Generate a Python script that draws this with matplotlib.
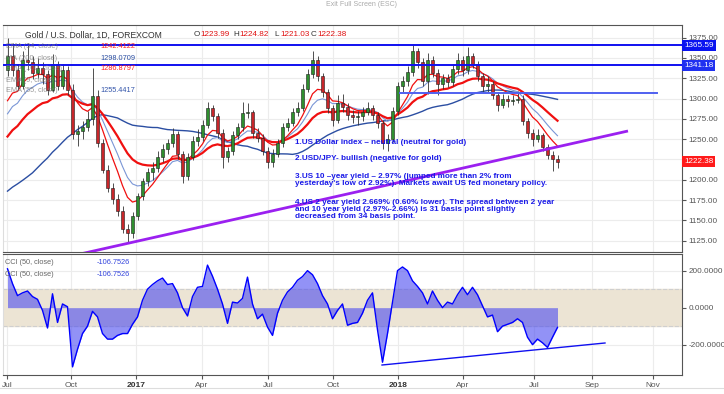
import numpy as np
import pandas as pd
import matplotlib
matplotlib.use("Agg")
import matplotlib.pyplot as plt

plt.rcParams['font.family'] = ['Liberation Sans', 'DejaVu Sans']

# ---------------- data (weekly candles) ----------------
closes = [1352,1335,1315,1348,1345,1332,1338,1330,1310,1342,
          1315,1335,1310,1256,1260,1265,1275,1303,1245,1212,
          1190,1176,1162,1140,1135,1155,1180,1198,1209,1215,
          1228,1238,1245,1256,1232,1205,1228,1248,1253,1268,
          1288,1278,1258,1228,1235,1255,1265,1282,1283,1258,
          1252,1235,1222,1232,1245,1265,1270,1283,1288,1312,
          1330,1348,1328,1308,1288,1274,1295,1290,1280,1277,
          1278,1284,1288,1280,1270,1245,1250,1285,1316,1322,
          1333,1358,1345,1322,1348,1332,1318,1325,1320,1336,
          1348,1335,1352,1343,1328,1315,1318,1305,1292,1300,
          1297,1298,1300,1272,1258,1250,1255,1240,1230,1226,
          1222.38]
opens = [1335] + closes[:-1]
highs = [1374,1368,1342,1358,1368,1352,1350,1345,1335,1355,
         1346,1343,1340,1318,1268,1272,1285,1338,1310,1250,
         1218,1196,1182,1168,1146,1160,1184,1202,1214,1222,
         1236,1244,1250,1264,1260,1236,1233,1254,1262,1274,
         1296,1292,1282,1262,1240,1260,1270,1296,1294,1286,
         1264,1256,1240,1238,1250,1270,1276,1288,1296,1318,
         1336,1358,1352,1332,1312,1292,1304,1306,1294,1286,
         1285,1290,1296,1292,1284,1274,1256,1290,1320,1328,
         1340,1366,1362,1350,1356,1352,1336,1330,1330,1342,
         1356,1352,1364,1356,1346,1332,1328,1322,1308,1306,
         1305,1304,1309,1304,1276,1262,1262,1258,1244,1235,
         1230]
lows = [1328,1328,1310,1312,1335,1324,1325,1318,1305,1308,
        1310,1312,1305,1250,1242,1250,1260,1268,1240,1208,
        1185,1170,1156,1135,1124,1128,1150,1175,1192,1200,
        1210,1222,1232,1240,1226,1196,1200,1224,1242,1248,
        1264,1272,1252,1214,1222,1230,1250,1260,1276,1252,
        1246,1230,1215,1216,1228,1240,1260,1266,1278,1285,
        1308,1325,1322,1302,1282,1266,1270,1284,1274,1270,
        1268,1272,1280,1274,1264,1238,1236,1246,1280,1308,
        1316,1328,1338,1316,1306,1326,1305,1312,1314,1316,
        1330,1328,1330,1338,1322,1308,1308,1300,1285,1288,
        1290,1292,1294,1268,1252,1242,1246,1236,1225,1211,
        1214]
# weekly closes before the visible range (feed the moving averages)
history_closes = [1160,1134,1121,1108,1137,1145,1137,1156,1176,1162,
                  1142,1088,1081,1076,1057,1085,1075,1066,1076,1061,
                  1104,1089,1097,1117,1158,1239,1230,1222,1271,1259,
                  1255,1217,1222,1243,1234,1232,1293,1290,1273,1252,
                  1216,1243,1275,1298,1322]
cci = [210,130,65,80,90,60,45,-15,-110,75,
       -80,20,5,-320,-225,-140,-100,-20,-50,-140,
       -170,-170,-150,-140,-140,-90,-50,40,100,125,
       145,160,125,130,80,0,-45,60,110,115,
       230,170,100,20,-85,30,25,50,165,20,
       -60,-35,-105,-150,-30,40,85,110,148,168,
       200,178,130,65,20,-60,-15,20,-95,-85,
       -80,-30,40,80,-120,-295,-140,30,200,220,
       200,145,115,80,20,90,40,0,30,20,
       70,110,70,110,70,10,-50,-40,-130,-100,
       -90,-80,-60,-80,-160,-200,-170,-190,-215,-160,
       -106.75]

tick_labels = ['Jul', 'Oct', '2017', 'Apr', 'Jul', 'Oct', '2018', 'Apr', 'Jul', 'Sep', 'Nov']
tick_days = [2, 66, 131, 197, 263, 328, 393, 458, 529, 587, 648]

levels = [1365.59, 1341.18]
level_mid = 1306.5
level_mid_days = [395, 652]
trend_days = [78, 623]
trend_prices = [1109.4, 1260.1]
cci_trend_days = [377, 600]
cci_trend_vals = [-310, -191]

notes = ["1.US Dollar index \u2013 neutral (neutral for gold)",
         "2.USD/JPY- bullish (negative for gold)",
         "3.US 10 \u2013year yield \u2013 2.97% (jumped more than 2% from\nyesterday's low of 2.92%). Markets await US fed monetary policy.",
         "4.US 2 year yield 2.669% (0.60% lower). The spread between 2 year\nand 10 year yield (2.97%-2.66%) is 31 basis point slightly\ndecreased from 34 basis point."]

# ---------------- computations ----------------
n = len(closes)
x = 5 * np.arange(n) + 2.5
allc = pd.Series(history_closes + closes)
h = len(history_closes)
ema34 = allc.ewm(span=7, adjust=False).mean().values[h:]
ema55 = allc.ewm(span=11, adjust=False).mean().values[h:]
ema100 = allc.ewm(span=20, adjust=False).mean().values[h:]
sma200 = allc.rolling(40).mean().values[h:]

o = np.array(opens); c = np.array(closes); hi = np.array(highs); lo = np.array(lows)
up = c >= o

# ---------------- figure ----------------
W, H = 724, 394
fig = plt.figure(figsize=(W / 100, H / 100), dpi=100)
fig.patch.set_facecolor('white')

ax = fig.add_axes([3 / W, 1 - 252 / H, 679 / W, 227 / H])
ax2 = fig.add_axes([3 / W, 1 - 375 / H, 679 / W, 121 / H])

grid_c = '#ececec'
for a in (ax, ax2):
    a.set_xlim(-2, 677)
    a.set_xticks(tick_days)
    a.grid(True, color=grid_c, lw=0.8)
    a.set_axisbelow(True)
    a.yaxis.tick_right()
    a.tick_params(axis='y', which='both', length=3, color='#555', labelsize=5.9,
                  labelcolor='#555', pad=1.5)
    a.spines['left'].set_color('#dddddd')
    a.spines['right'].set_color('#555555')
    a.spines['top'].set_color('#555555')
    a.spines['bottom'].set_color('#555555')

# main panel
ax.set_ylim(1111.1, 1390.6)
yt = np.arange(1125, 1376, 25)
ax.set_yticks(yt)
# the 1225 label sits under the last-price box in the reference
ax.set_yticklabels(["" if v == 1225 else f"{v:.2f}" for v in yt])
ax.tick_params(axis='x', length=0, labelbottom=False)

ax.plot(x, sma200, color='#2b4ea2', lw=1.0, zorder=3)
ax.plot(x, ema55, color='#7a96d6', lw=0.8, zorder=3)
ax.plot(x, ema100, color='#f01010', lw=1.6, zorder=3)
ax.plot(x, ema34, color='#f01010', lw=0.9, zorder=3)

ax.vlines(x, lo, hi, color='#333333', lw=0.6, zorder=4)
ax.bar(x[up], (c - o)[up], bottom=o[up], width=3.2, color='#2f8f2f',
       edgecolor='#1d1d1d', lw=0.4, zorder=5)
ax.bar(x[~up], (c - o)[~up], bottom=o[~up], width=3.2, color='#c8262a',
       edgecolor='#1d1d1d', lw=0.4, zorder=5)

for lv in levels:
    ax.axhline(lv, color='#1010f0', lw=1.4, zorder=6)
ax.plot(level_mid_days, [level_mid, level_mid], color='#5060f0', lw=1.4, zorder=6)
ax.plot(trend_days, trend_prices, color='#9b20f0', lw=2.0, zorder=6, solid_capstyle='butt')

# right price labels
for lv, col in [(1365.59, '#0a14f0'), (1341.18, '#2030f0'), (1222.38, '#ff1a1a')]:
    ax.text(1.003, lv, f"{lv:.2f}", transform=ax.get_yaxis_transform(), fontsize=5.9,
            color='white', va='center', ha='left', zorder=10,
            bbox=dict(boxstyle='square,pad=0.25', fc=col, ec='none'))

def px(xp, yp, top, bottom):
    return ((xp - 3) / 679, (bottom - yp) / (bottom - top))

# header
ax.text(*px(25, 35, 25, 252), "Gold / U.S. Dollar, 1D, FOREXCOM", transform=ax.transAxes,
        fontsize=6.2, color='#333333', va='center', ha='left', zorder=9)
for lab, val, xp in [("O", "1223.99", 194), ("H", "1224.82", 233), ("L", "1221.03", 274), ("C", "1222.38", 311)]:
    ax.text(*px(xp, 35, 25, 252), lab, transform=ax.transAxes, fontsize=5.9,
            color='#333333', va='center', ha='left', zorder=9)
    ax.text(*px(xp + 6, 35, 25, 252), val, transform=ax.transAxes, fontsize=5.9,
            color='#e01010', va='center', ha='left', zorder=9)
ind = [("EMA (34, close)", "1242.4122", '#ff2020', 47),
       ("MA (200, close)", "1298.0709", '#2b4ea2', 58),
       ("EMA (100, close)", "1286.8797", '#ff2020', 69),
       ("EMA (9, close)", "", '#888888', 81),
       ("EMA (55, close)", "1255.4417", '#3355aa', 90)]
for lab, val, col, yp in ind:
    ax.text(*px(6, yp, 25, 252), lab, transform=ax.transAxes, fontsize=5.3,
            color='#777777', alpha=0.75, va='center', ha='left', zorder=9)
    if val:
        ax.text(*px(100, yp, 25, 252), val, transform=ax.transAxes, fontsize=5.3,
                color=col, va='center', ha='left', zorder=9)

# notes
note_y = [143, 160, 177, 203]
for txt, yp in zip(notes, note_y):
    ax.text(*px(295, yp - 4.5, 25, 252), txt, transform=ax.transAxes, fontsize=5.9,
            fontweight='bold', color='#1a1ae8', va='top', ha='left', linespacing=1.08,
            zorder=9)

# CCI panel
ax2.set_ylim(-364, 290)
ax2.set_yticks([200, 0, -200])
ax2.set_yticklabels(["200.0000", "0.0000", "-200.0000"])
ax2.axhspan(-100, 100, color='#ece4d4', zorder=1)
ax2.axhline(100, color='#cfcfcf', lw=0.8, ls='--', zorder=2)
ax2.axhline(-100, color='#cfcfcf', lw=0.8, ls='--', zorder=2)
cv = np.array(cci)
ax2.fill_between(x, cv, 0, color='#4a4af0', alpha=0.6, lw=0, zorder=3)
ax2.plot(x, cv, color='#0000ff', lw=1.0, zorder=4)
ax2.plot(cci_trend_days, cci_trend_vals, color='#1010f0', lw=1.0, zorder=4)
ax2.set_xticklabels(tick_labels)
ax2.tick_params(axis='x', length=3, color='#555', labelsize=6.0, labelcolor='#555', pad=2)
for lbl in ax2.get_xticklabels():
    if lbl.get_text() in ('2017', '2018'):
        lbl.set_fontweight('bold')
        lbl.set_color('#333333')
for yp in (262, 274):
    ax2.text(*px(5, yp, 254, 375), "CCI (50, close)", transform=ax2.transAxes,
             fontsize=5.3, color='#666666', va='center', ha='left', zorder=9)
    ax2.text(*px(97, yp, 254, 375), "-106.7526", transform=ax2.transAxes,
             fontsize=5.3, color='#3344dd', va='center', ha='left', zorder=9)

fig.text(362 / W, 1 - 4 / H, "Exit Full Screen (ESC)", fontsize=5, color='#aaaaaa',
         ha='center', va='center')
fig.add_artist(plt.Line2D([0, 1], [1 - 388 / H, 1 - 388 / H], color='#dddddd', lw=0.8))

fig.savefig("out.png", dpi=100)
